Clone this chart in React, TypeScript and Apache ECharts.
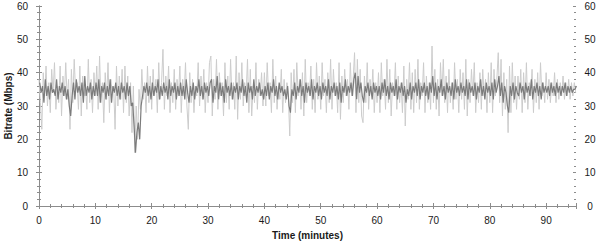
import React, { useEffect, useRef } from "react";
import * as echarts from "echarts";

// Sampling grid (minutes) for the two traces
const sampleStep = 0.25;
const darkOffset = 0.125;

// Light trace (wide spikes), one value per 0.25 min starting at 0; one row = 5 min
const lightValues = [
  38, 31, 23, 40, 33, 42, 30, 37, 28, 41, 34, 43, 29, 36, 31, 42, 27, 39, 33, 43,
  32, 38, 23, 41, 31, 44, 34, 37, 29, 42, 27, 39, 33, 36, 29, 44, 31, 38, 28, 40,
  33, 42, 29, 45, 31, 37, 25, 40, 32, 43, 28, 38, 34, 36, 23, 42, 30, 39, 32, 41,
  28, 42, 31, 39, 27, 37, 22, 36, 16, 30, 20, 35, 29, 41, 32, 37, 28, 42, 31, 39,
  29, 41, 33, 38, 28, 43, 32, 37, 47, 29, 39, 33, 42, 28, 37, 31, 41, 29, 38, 33,
  42, 28, 38, 33, 43, 30, 23, 40, 31, 38, 28, 36, 33, 43, 30, 39, 32, 41, 28, 37,
  31, 43, 45, 27, 38, 32, 44, 29, 40, 33, 37, 27, 43, 31, 39, 29, 44, 32, 37, 29,
  45, 26, 40, 32, 43, 30, 37, 33, 44, 28, 41, 27, 36, 31, 43, 29, 38, 33, 40, 30,
  40, 30, 43, 33, 37, 28, 44, 31, 39, 29, 36, 32, 41, 28, 38, 31, 37, 33, 21, 40,
  31, 41, 28, 43, 33, 38, 29, 40, 27, 44, 31, 37, 33, 42, 29, 38, 28, 43, 32, 39,
  29, 43, 33, 38, 28, 40, 31, 44, 29, 41, 33, 37, 28, 43, 26, 39, 31, 41, 33, 38,
  29, 43, 33, 38, 46, 28, 44, 31, 41, 27, 25, 39, 31, 43, 29, 38, 33, 41, 28, 37,
  31, 40, 28, 43, 33, 38, 29, 44, 31, 41, 27, 37, 33, 43, 29, 39, 31, 37, 28, 42,
  24, 38, 32, 43, 29, 40, 28, 41, 31, 44, 29, 37, 33, 43, 28, 39, 31, 37, 29, 48,
  31, 41, 29, 38, 27, 43, 33, 44, 31, 39, 28, 41, 31, 37, 29, 43, 32, 38, 28, 41,
  32, 40, 29, 44, 27, 38, 31, 41, 33, 43, 28, 37, 31, 40, 29, 41, 33, 38, 28, 40,
  31, 43, 28, 41, 33, 38, 46, 31, 44, 27, 40, 29, 38, 22, 42, 28, 43, 31, 39, 29,
  39, 32, 41, 28, 40, 31, 43, 29, 37, 33, 41, 28, 38, 31, 40, 29, 43, 33, 37, 31,
  40, 32, 38, 31, 37, 33, 40, 31, 38, 32, 37, 33, 39, 32, 37, 33, 38, 32, 37, 33,
  37, 34,
];

// Dark trace (core band), one value per 0.25 min starting at 0.125; one row = 5 min
const darkValues = [
  37, 34, 36, 31, 38, 33, 36, 32, 37, 34, 35, 33, 38, 32, 36, 34, 37, 33, 36, 32,
  35, 30, 27, 33, 37, 32, 38, 34, 36, 33, 37, 31, 39, 33, 36, 34, 37, 32, 36, 33,
  37, 33, 38, 31, 36, 34, 37, 32, 36, 33, 38, 31, 36, 34, 37, 33, 36, 32, 37, 34,
  36, 32, 37, 33, 36, 30, 31, 24, 16, 22, 25, 20, 30, 33, 36, 34, 37, 33, 36, 32,
  37, 33, 36, 34, 38, 32, 36, 33, 37, 34, 36, 32, 38, 33, 36, 34, 37, 32, 36, 33,
  37, 33, 36, 32, 38, 34, 31, 36, 33, 37, 32, 36, 34, 38, 33, 36, 32, 37, 34, 36,
  33, 37, 38, 31, 36, 34, 39, 32, 37, 33, 36, 31, 38, 34, 36, 33, 37, 32, 36, 34,
  37, 32, 36, 34, 38, 33, 36, 31, 37, 34, 36, 32, 38, 33, 36, 34, 37, 33, 35, 32,
  36, 33, 37, 32, 36, 34, 38, 33, 36, 32, 37, 34, 36, 33, 35, 32, 36, 30, 28, 35,
  33, 37, 32, 36, 34, 38, 33, 36, 31, 37, 34, 36, 33, 38, 32, 36, 34, 37, 33, 36,
  32, 37, 34, 36, 33, 38, 32, 36, 34, 37, 33, 36, 32, 37, 31, 36, 34, 38, 33, 36,
  34, 37, 33, 38, 40, 32, 39, 34, 37, 33, 31, 36, 34, 37, 33, 36, 32, 37, 34, 36,
  33, 36, 32, 37, 34, 38, 33, 36, 32, 37, 34, 36, 33, 38, 32, 36, 34, 37, 33, 36,
  31, 35, 33, 37, 32, 36, 34, 37, 33, 38, 32, 36, 34, 37, 33, 36, 32, 37, 34, 39,
  33, 37, 32, 36, 34, 38, 33, 36, 32, 37, 34, 36, 33, 37, 32, 38, 34, 36, 33, 37,
  34, 36, 33, 38, 32, 37, 34, 36, 33, 37, 32, 36, 34, 38, 33, 36, 32, 37, 34, 36,
  33, 37, 32, 38, 34, 36, 39, 33, 37, 31, 36, 34, 30, 28, 36, 33, 37, 32, 36, 34,
  33, 37, 34, 36, 32, 37, 34, 36, 33, 38, 32, 36, 34, 37, 33, 36, 32, 37, 34, 36,
  34, 36, 33, 37, 34, 36, 33, 37, 34, 36, 33, 36, 34, 37, 33, 36, 34, 36, 34, 35,
  35, 36,
];

const xMin = 0;
const xMax = 95.3;
const xInterval = 10;
const yMin = 0;
const yMax = 60;
const yInterval = 10;
const xTitle = "Time (minutes)";
const yTitle = "Bitrate (Mbps)";

export default function App() {
  const ref = useRef<HTMLDivElement>(null);

  useEffect(() => {
    if (!ref.current) return;
    const chart = echarts.init(ref.current, null, { renderer: "svg" });
    const font = "'Liberation Sans', Arial, sans-serif";
    const axisColor = "#8c8c8c";
    const labelColor = "#1a1a1a";
    const rect = {
      left: 39,
      right: 24,
      top: 6,
      bottom: 38,
      containLabel: false,
      outerBoundsMode: "none",
    };

    const light = lightValues.map((v, i) => [i * sampleStep, v]);
    const dark = darkValues.map((v, i) => [i * sampleStep + darkOffset, v]);

    const tick = (inside: boolean) => ({
      show: true,
      inside,
      length: 3,
      lineStyle: { color: axisColor, width: 1 },
    });
    const minor = () => ({
      show: true,
      splitNumber: 5,
      length: 2,
      lineStyle: { color: axisColor, width: 1 },
    });
    const line = (show: boolean) => ({
      show,
      lineStyle: { color: axisColor, width: 1 },
    });
    const label = {
      fontSize: 10,
      color: labelColor,
      fontFamily: font,
    };
    const xBase = {
      type: "value",
      min: xMin,
      max: xMax,
      interval: xInterval,
      splitLine: { show: false },
    };
    const yBase = {
      type: "value",
      min: yMin,
      max: yMax,
      interval: yInterval,
      splitLine: { show: false },
    };
    const titleStyle = {
      fontSize: 10,
      fontWeight: "bold",
      color: labelColor,
      fontFamily: font,
    };

    chart.setOption({
      animation: false,
      backgroundColor: "#ffffff",
      grid: [{ ...rect }, { ...rect }],
      xAxis: [
        {
          ...xBase,
          gridIndex: 0,
          position: "bottom",
          axisLine: line(true),
          axisTick: tick(false),
          minorTick: minor(),
          axisLabel: { ...label, margin: 9, showMaxLabel: false },
          name: xTitle,
          nameLocation: "middle",
          nameGap: 24,
          nameMoveOverlap: false,
          nameTextStyle: titleStyle,
        },
        {
          ...xBase,
          gridIndex: 0,
          position: "top",
          axisLine: line(true),
          axisTick: tick(true),
          minorTick: minor(),
          axisLabel: { show: false },
        },
        {
          ...xBase,
          gridIndex: 1,
          position: "bottom",
          axisLine: line(false),
          axisTick: tick(true),
          minorTick: minor(),
          axisLabel: { show: false },
        },
      ],
      yAxis: [
        {
          ...yBase,
          gridIndex: 0,
          position: "left",
          axisLine: line(true),
          axisTick: tick(false),
          minorTick: minor(),
          axisLabel: { ...label, margin: 11 },
          name: yTitle,
          nameLocation: "middle",
          nameGap: 26,
          nameRotate: 90,
          nameMoveOverlap: false,
          nameTextStyle: titleStyle,
        },
        {
          ...yBase,
          gridIndex: 0,
          position: "right",
          axisLine: line(true),
          axisTick: tick(false),
          minorTick: minor(),
          axisLabel: { ...label, margin: 14, align: "center" },
        },
        {
          ...yBase,
          gridIndex: 1,
          position: "left",
          axisLine: line(false),
          axisTick: tick(true),
          minorTick: minor(),
          axisLabel: { show: false },
        },
        {
          ...yBase,
          gridIndex: 1,
          position: "right",
          axisLine: line(false),
          axisTick: tick(true),
          minorTick: minor(),
          axisLabel: { show: false },
        },
      ],
      series: [
        {
          type: "line",
          xAxisIndex: 0,
          yAxisIndex: 0,
          data: light,
          showSymbol: false,
          silent: true,
          lineStyle: { color: "#cccccc", width: 1 },
        },
        {
          type: "line",
          xAxisIndex: 0,
          yAxisIndex: 0,
          data: dark,
          showSymbol: false,
          silent: true,
          lineStyle: { color: "#7c7c7c", width: 1.2 },
        },
      ],
    });

    return () => chart.dispose();
  }, []);

  return (
    <div
      ref={ref}
      style={{ position: "fixed", left: 0, top: 0, width: 600, height: 244 }}
    />
  );
}
